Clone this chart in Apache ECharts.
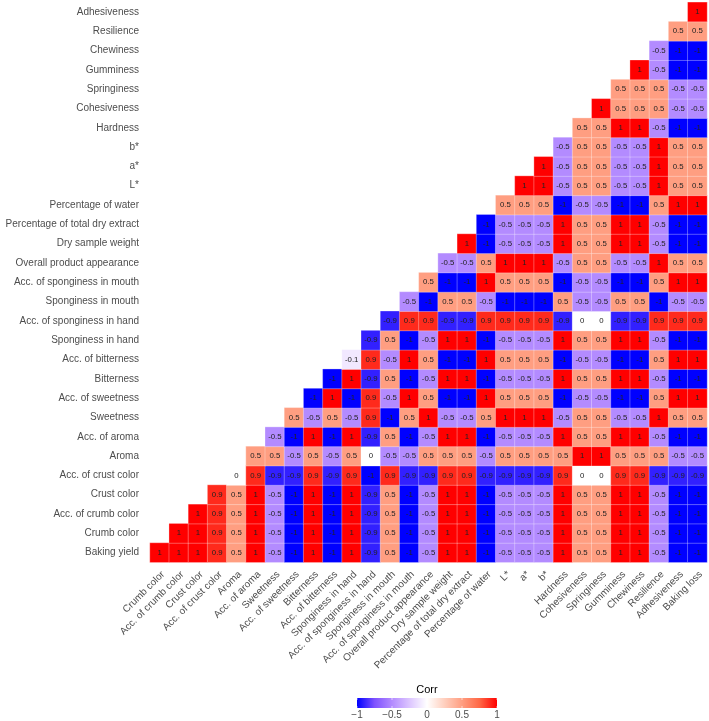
<!DOCTYPE html>
<html>
<head>
<meta charset="utf-8">
<script src="https://cdn.jsdelivr.net/npm/echarts@6/dist/echarts.min.js"></script>
<style>
  html, body { margin: 0; padding: 0; background: #fff; }
  #chart { width: 709px; height: 721px; }
</style>
</head>
<body>
<div id="chart"></div>
<script>
// columns (x), left to right
const xLabels = ['Crumb color', 'Acc. of crumb color', 'Crust color', 'Acc. of crust color', 'Aroma',
  'Acc. of aroma', 'Sweetness', 'Acc. of sweetness', 'Bitterness', 'Acc. of bitterness',
  'Sponginess in hand', 'Acc. of sponginess in hand', 'Sponginess in mouth', 'Acc. of sponginess in mouth',
  'Overall product appearance', 'Dry sample weight', 'Percentage of total dry extract', 'Percentage of water',
  'L*', 'a*', 'b*', 'Hardness', 'Cohesiveness', 'Springiness', 'Gumminess', 'Chewiness', 'Resilience',
  'Adhesiveness', 'Baking loss'];

// rows (y), bottom to top
const yLabels = ['Baking yield', 'Crumb color', 'Acc. of crumb color', 'Crust color', 'Acc. of crust color',
  'Aroma', 'Acc. of aroma', 'Sweetness', 'Acc. of sweetness', 'Bitterness', 'Acc. of bitterness',
  'Sponginess in hand', 'Acc. of sponginess in hand', 'Sponginess in mouth', 'Acc. of sponginess in mouth',
  'Overall product appearance', 'Dry sample weight', 'Percentage of total dry extract', 'Percentage of water',
  'L*', 'a*', 'b*', 'Hardness', 'Cohesiveness', 'Springiness', 'Gumminess', 'Chewiness', 'Resilience',
  'Adhesiveness'];

// each row starts at the column with the same index as the row
const bakingYield = [1, 1, 1, 0.9, 0.5, 1, -0.5, -1, 1, -1, 1, -0.9, 0.5, -1, -0.5, 1, 1, -1, -0.5, -0.5, -0.5, 1, 0.5, 0.5, 1, 1, -0.5, -1, -1];
const crumbColor = [1, 1, 0.9, 0.5, 1, -0.5, -1, 1, -1, 1, -0.9, 0.5, -1, -0.5, 1, 1, -1, -0.5, -0.5, -0.5, 1, 0.5, 0.5, 1, 1, -0.5, -1, -1];
const accCrumbColor = [1, 0.9, 0.5, 1, -0.5, -1, 1, -1, 1, -0.9, 0.5, -1, -0.5, 1, 1, -1, -0.5, -0.5, -0.5, 1, 0.5, 0.5, 1, 1, -0.5, -1, -1];
const crustColor = [0.9, 0.5, 1, -0.5, -1, 1, -1, 1, -0.9, 0.5, -1, -0.5, 1, 1, -1, -0.5, -0.5, -0.5, 1, 0.5, 0.5, 1, 1, -0.5, -1, -1];
const accCrustColor = [0, 0.9, -0.9, -0.9, 0.9, -0.9, 0.9, -1, 0.9, -0.9, -0.9, 0.9, 0.9, -0.9, -0.9, -0.9, -0.9, 0.9, 0, 0, 0.9, 0.9, -0.9, -0.9, -0.9];
const aroma = [0.5, 0.5, -0.5, 0.5, -0.5, 0.5, 0, -0.5, -0.5, 0.5, 0.5, 0.5, -0.5, 0.5, 0.5, 0.5, 0.5, 1, 1, 0.5, 0.5, 0.5, -0.5, -0.5];
const accAroma = [-0.5, -1, 1, -1, 1, -0.9, 0.5, -1, -0.5, 1, 1, -1, -0.5, -0.5, -0.5, 1, 0.5, 0.5, 1, 1, -0.5, -1, -1];
const sweetness = [0.5, -0.5, 0.5, -0.5, 0.9, -1, 0.5, 1, -0.5, -0.5, 0.5, 1, 1, 1, -0.5, 0.5, 0.5, -0.5, -0.5, 1, 0.5, 0.5];
const accSweetness = [-1, 1, -1, 0.9, -0.5, 1, 0.5, -1, -1, 1, 0.5, 0.5, 0.5, -1, -0.5, -0.5, -1, -1, 0.5, 1, 1];
const bitterness = [-1, 1, -0.9, 0.5, -1, -0.5, 1, 1, -1, -0.5, -0.5, -0.5, 1, 0.5, 0.5, 1, 1, -0.5, -1, -1];
const accBitterness = [-0.1, 0.9, -0.5, 1, 0.5, -1, -1, 1, 0.5, 0.5, 0.5, -1, -0.5, -0.5, -1, -1, 0.5, 1, 1];
const spongHand = [-0.9, 0.5, -1, -0.5, 1, 1, -1, -0.5, -0.5, -0.5, 1, 0.5, 0.5, 1, 1, -0.5, -1, -1];
const accSpongHand = [-0.9, 0.9, 0.9, -0.9, -0.9, 0.9, 0.9, 0.9, 0.9, -0.9, 0, 0, -0.9, -0.9, 0.9, 0.9, 0.9];
const spongMouth = [-0.5, -1, 0.5, 0.5, -0.5, -1, -1, -1, 0.5, -0.5, -0.5, 0.5, 0.5, -1, -0.5, -0.5];
const accSpongMouth = [0.5, -1, -1, 1, 0.5, 0.5, 0.5, -1, -0.5, -0.5, -1, -1, 0.5, 1, 1];
const overallAppearance = [-0.5, -0.5, 0.5, 1, 1, 1, -0.5, 0.5, 0.5, -0.5, -0.5, 1, 0.5, 0.5];
const drySampleWeight = [1, -1, -0.5, -0.5, -0.5, 1, 0.5, 0.5, 1, 1, -0.5, -1, -1];
const totalDryExtract = [-1, -0.5, -0.5, -0.5, 1, 0.5, 0.5, 1, 1, -0.5, -1, -1];
const water = [0.5, 0.5, 0.5, -1, -0.5, -0.5, -1, -1, 0.5, 1, 1];
const lStar = [1, 1, -0.5, 0.5, 0.5, -0.5, -0.5, 1, 0.5, 0.5];
const aStar = [1, -0.5, 0.5, 0.5, -0.5, -0.5, 1, 0.5, 0.5];
const bStar = [-0.5, 0.5, 0.5, -0.5, -0.5, 1, 0.5, 0.5];
const hardness = [0.5, 0.5, 1, 1, -0.5, -1, -1];
const cohesiveness = [1, 0.5, 0.5, 0.5, -0.5, -0.5];
const springiness = [0.5, 0.5, 0.5, -0.5, -0.5];
const gumminess = [1, -0.5, -1, -1];
const chewiness = [-0.5, -1, -1];
const resilience = [0.5, 0.5];
const adhesiveness = [1];

const legendTicks = [-1, -0.5, 0, 0.5, 1];
const legendTickLabels = ['\u22121', '\u22120.5', '0', '0.5', '1'];

const rows = [bakingYield, crumbColor, accCrumbColor, crustColor, accCrustColor, aroma, accAroma,
  sweetness, accSweetness, bitterness, accBitterness, spongHand, accSpongHand, spongMouth,
  accSpongMouth, overallAppearance, drySampleWeight, totalDryExtract, water, lStar, aStar, bStar,
  hardness, cohesiveness, springiness, gumminess, chewiness, resilience, adhesiveness];

const data = [];
rows.forEach((vals, r) => {
  vals.forEach((v, i) => data.push([r + i, r, v]));
});

const palette = ['#0000FF', '#7E51FF', '#B38BFF', '#DCC5FF', '#FFFFFF', '#FFCFBE', '#FF9E81', '#FF6846', '#FF0000'];
const font = '"Liberation Sans", Arial, sans-serif';

// colour bar
const barX = 357, barY = 698, barW = 140, barH = 10;
const graphics = [
  {
    type: 'rect',
    shape: { x: barX, y: barY, width: barW, height: barH },
    style: {
      fill: new echarts.graphic.LinearGradient(0, 0, 1, 0,
        palette.map((c, i) => ({ offset: i / (palette.length - 1), color: c })))
    }
  },
  {
    type: 'text', x: barX + barW / 2, y: barY - 3,
    style: { text: 'Corr', font: '11px ' + font, fill: '#000', align: 'center', verticalAlign: 'bottom' }
  }
];
legendTicks.forEach((t, i) => {
  const x = barX + (t + 1) / 2 * barW;
  graphics.push({
    type: 'text', x: x, y: barY + barH + 2,
    style: { text: legendTickLabels[i], font: '10px ' + font, fill: '#4d4d4d', align: 'center', verticalAlign: 'top' }
  });
  graphics.push({
    type: 'line',
    shape: { x1: x, y1: barY, x2: x, y2: barY + 2 },
    style: { stroke: '#fff', lineWidth: 0.6 }
  });
  graphics.push({
    type: 'line',
    shape: { x1: x, y1: barY + barH - 2, x2: x, y2: barY + barH },
    style: { stroke: '#fff', lineWidth: 0.6 }
  });
});

const chart = echarts.init(document.getElementById('chart'));
chart.setOption({
  backgroundColor: '#fff',
  animation: false,
  grid: { left: 150, top: 2.3, width: 557, height: 560 },
  xAxis: {
    type: 'category',
    data: xLabels,
    axisLine: { show: false },
    axisTick: { show: false },
    splitLine: { show: false },
    axisLabel: {
      rotate: 45, interval: 0, margin: 7, align: 'right', verticalAlign: 'top',
      fontSize: 10, color: '#4d4d4d', fontFamily: font
    }
  },
  yAxis: {
    type: 'category',
    data: yLabels,
    axisLine: { show: false },
    axisTick: { show: false },
    splitLine: { show: false },
    axisLabel: { interval: 0, margin: 11, fontSize: 10, color: '#4d4d4d', fontFamily: font }
  },
  visualMap: {
    show: false,
    type: 'continuous',
    min: -1,
    max: 1,
    dimension: 2,
    inRange: { color: palette }
  },
  series: [{
    type: 'heatmap',
    data: data,
    itemStyle: { borderColor: 'rgba(255,255,255,0.6)', borderWidth: 0.5 },
    label: {
      show: true,
      formatter: p => String(p.value[2]),
      fontSize: 7.8,
      color: '#222',
      fontFamily: font
    }
  }],
  graphic: graphics
});
</script>
</body>
</html>
